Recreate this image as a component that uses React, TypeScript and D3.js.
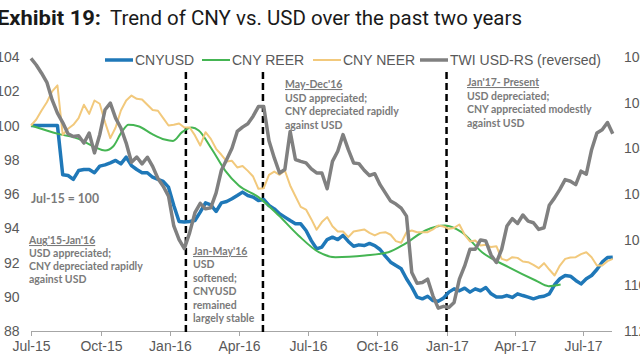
import React from 'react';
import * as d3 from 'd3';

// ---------- DATA ----------
const startDate = new Date(2015, 6, 1); // weekly observations starting Jul 1 2015

const cnyusd = [
  100, 100, 100, 100, 100, 100,
  97.12, 97.08, 96.85, 97.37, 97.43,
  97.43, 97.24, 97.63, 97.70, 97.82,
  97.96, 97.76, 98.15, 97.66, 97.43,
  97.24, 97.24, 96.98, 96.85, 96.73,
  96.40, 95.33, 94.39, 94.36, 94.39,
  94.45, 94.94, 95.48, 95.37, 94.98,
  95.48, 95.56, 95.72, 95.91, 96.11,
  95.91, 95.82, 95.62, 95.68, 95.33,
  95.13, 94.84, 94.65, 94.45, 94.26,
  94.26, 93.87, 93.28, 92.80, 92.90,
  93.34, 93.48, 93.34, 93.58, 93.23,
  92.95, 93.03, 92.99, 93.11, 92.99,
  92.76, 92.37, 92.02, 91.82, 91.63,
  91.05, 90.56, 89.98, 89.88, 90.03,
  89.78, 89.74, 89.92, 90.27, 90.46,
  90.35, 90.50, 90.27, 90.46, 90.35,
  90.54, 90.17, 89.98, 89.98, 90.07,
  89.96, 90.17, 90.07, 89.98, 89.88,
  89.98, 90.03, 90.17, 90.70, 91.05,
  91.24, 91.20, 90.95, 90.75, 91.05,
  91.24, 91.59, 92.02, 92.29, 92.31,
];

const cnyNeer = [
  100, 100.35, 100.88, 101.36, 101.99, 102.34,
  99.45, 99.81, 100.04, 100.43, 101.21,
  100.68, 101.46, 101.27, 100.19, 99.26,
  99.88, 100.88, 101.46, 101.75, 101.56,
  101.52, 101.21, 100.91, 100.86, 100.43,
  100.0, 100.04, 100.12, 99.88, 99.88,
  99.42, 98.83, 99.61, 99.22, 98.64,
  98.29, 97.90, 97.94, 97.55, 97.63,
  97.35, 97.02, 96.30, 96.34, 97.12,
  97.31, 97.12, 97.37, 96.50, 95.87,
  95.25, 95.09, 94.53, 93.91, 94.36,
  94.65, 94.12, 93.81, 93.81, 93.48,
  93.81, 93.87, 93.93, 93.73, 93.58,
  93.73, 93.77, 93.62, 93.25, 93.15,
  93.77, 93.87, 93.77, 93.77, 93.77,
  93.93, 94.16, 94.10, 93.97, 94.02,
  94.22, 93.62, 93.23, 93.28, 92.99,
  93.03, 92.90, 92.95, 92.21, 92.12,
  92.31, 92.27, 92.06, 92.02, 91.86,
  91.67, 91.96, 91.59, 91.24, 91.82,
  92.21, 92.29, 92.31, 92.49, 92.60,
  92.31, 91.82, 91.82, 92.08, 92.21,
];

const twiUsd = [
  100.06, 100.35, 100.71, 101.11, 101.88, 102.46,
  102.87, 103.36, 103.48, 103.45, 103.77,
  103.33, 104.20, 103.40, 102.31, 102.02,
  102.68, 103.11, 103.77, 104.61, 104.38,
  104.68, 104.39, 104.79, 105.32, 105.66,
  106.09, 107.40, 108.00, 108.39, 107.69,
  106.82, 106.41, 106.65, 106.60, 105.95,
  104.96, 104.49, 104.00, 103.26, 103.07,
  102.92, 102.59, 102.17, 102.17, 103.67,
  104.42, 105.08, 104.93, 103.26, 104.49,
  104.57, 104.64, 104.90, 105.08, 105.08,
  105.77, 104.57, 104.13, 103.40, 104.06,
  104.64, 104.67, 104.96, 105.19, 105.11,
  105.59, 105.95, 106.31, 106.44, 106.62,
  106.97, 109.44, 109.91, 109.88, 109.73,
  110.46, 111.00, 110.92, 110.97, 110.75,
  109.73, 109.15, 108.42, 108.42, 108.01,
  108.06, 108.68, 109.00, 108.42, 107.40,
  107.08, 107.29, 106.92, 107.19, 107.26,
  107.55, 107.48, 106.49, 106.17, 105.80,
  105.37, 105.44, 105.59, 105.00, 105.13,
  104.06, 103.33, 103.19, 102.87, 103.36,
];

const reerDates = [
  '2015-07-01', '2015-08-06', '2015-09-02', '2015-09-24', '2015-10-07', '2015-10-18',
  '2015-10-29', '2015-11-07', '2015-11-20', '2015-12-08', '2015-12-25', '2016-01-05',
  '2016-01-17', '2016-01-30', '2016-02-08', '2016-02-25', '2016-03-14', '2016-04-01',
  '2016-04-27', '2016-05-24', '2016-06-19', '2016-07-16', '2016-08-07', '2016-09-15',
  '2016-10-16', '2016-11-07', '2016-12-04', '2016-12-30', '2017-01-21', '2017-02-17',
  '2017-03-24', '2017-04-29', '2017-05-16', '2017-06-01',
];
const reerValues = [
  100, 99.51, 99.22, 98.73, 98.54, 98.79,
  99.61, 100.04, 99.96, 99.51, 99.18, 99.10,
  99.61, 99.88, 99.71, 98.64, 97.37, 96.50,
  95.82, 94.74, 93.58, 92.60, 92.31, 92.41,
  92.60, 93.09, 93.87, 94.16, 93.77, 92.60,
  91.73, 90.95, 90.62, 90.72,
];

const xTickDates = ['2015-07-01', '2015-10-01', '2016-01-01', '2016-04-01', '2016-07-01', '2016-10-01', '2017-01-01', '2017-04-01', '2017-07-01'];
const xTickLabels = ['Jul-15', 'Oct-15', 'Jan-16', 'Apr-16', 'Jul-16', 'Oct-16', 'Jan-17', 'Apr-17', 'Jul-17'];
const leftTicks = [88, 90, 92, 94, 96, 98, 100, 102, 104];
const rightTicks = [100, 102, 104, 106, 108, 110, 112];
const dividerDates = ['2016-01-22', '2016-05-03', '2017-01-01'];

const seriesNames = ['CNYUSD', 'CNY REER', 'CNY NEER', 'TWI USD-RS (reversed)'];

// ---------- STYLE / LAYOUT ----------
const COLORS = { usd: '#1f78b8', reer: '#45b553', neer: '#f2c97c', twi: '#808080' };
const TEXT = '#595959';
const NOTE = '#7a7a7a';
const AXIS_FONT = "'Liberation Sans', Arial, sans-serif";
const NOTE_FONT = "Lato, 'Open Sans', sans-serif";

const parse = d3.timeParse('%Y-%m-%d');

export default function App() {
  const W = 640, H = 360;
  const x = d3.scaleTime().domain([new Date(2015, 6, 1), new Date(2017, 7, 8)]).range([31, 612]);
  const yL = d3.scaleLinear().domain([88, 104]).range([331, 57]);
  const yR = d3.scaleLinear().domain([100, 112]).range([57, 331]);

  const weekDate = (i: number) => d3.timeDay.offset(startDate, 7 * i);

  const lineL = d3.line<number>().x((_, i) => x(weekDate(i))).y((v) => yL(v));
  const lineR = d3.line<number>().x((_, i) => x(weekDate(i))).y((v) => yR(v));
  const reerPts = reerDates.map((d, i) => ({ d: parse(d)!, v: reerValues[i] }));
  const lineReer = d3.line<{ d: Date; v: number }>().x((p) => x(p.d)).y((p) => yL(p.v)).curve(d3.curveMonotoneX);

  const legend = [
    { name: seriesNames[0], color: COLORS.usd, w: 3.5, x: 105 },
    { name: seriesNames[1], color: COLORS.reer, w: 2, x: 202 },
    { name: seriesNames[2], color: COLORS.neer, w: 2, x: 313 },
    { name: seriesNames[3], color: COLORS.twi, w: 3.5, x: 420 },
  ];

  const notes = [
    { x: 29, y: 244, lines: ["Aug'15-Jan'16", 'USD appreciated;', 'CNY depreciated rapidly', 'against USD'], lh: 13 },
    { x: 193, y: 255, lines: ["Jan-May'16", 'USD', 'softened;', 'CNYUSD', 'remained', 'largely stable'], lh: 13.4 },
    { x: 285, y: 88, lines: ["May-Dec'16", 'USD appreciated;', 'CNY depreciated rapidly', 'against USD'], lh: 13.5 },
    { x: 467, y: 86, lines: ["Jan'17- Present", 'USD depreciated;', 'CNY appreciated modestly', 'against USD'], lh: 13.5 },
  ];

  return (
    <svg width={W} height={H} style={{ position: 'absolute', left: 0, top: 0, background: '#fff' }}>
      {/* title */}
      <text x={-3} y={25} fontFamily="Roboto, sans-serif" fontWeight="bold" fontSize={21} fill="#1a1a1a" textLength={104} lengthAdjust="spacingAndGlyphs">Exhibit 19:</text>
      <text x={110} y={25} fontFamily="Roboto, sans-serif" fontSize={21} fill="#1a1a1a" textLength={412} lengthAdjust="spacingAndGlyphs">Trend of CNY vs. USD over the past two years</text>

      {/* legend */}
      {legend.map((l) => (
        <g key={l.name}>
          <line x1={l.x} x2={l.x + 28} y1={60} y2={60} stroke={l.color} strokeWidth={l.w} />
          <text x={l.x + 30} y={65} fontFamily={AXIS_FONT} fontSize={14} fill={TEXT}>{l.name}</text>
        </g>
      ))}

      {/* left axis labels */}
      {leftTicks.map((t) => (
        <text key={'l' + t} x={19.5} y={yL(t) + 5} textAnchor="end" fontFamily={AXIS_FONT} fontSize={14} fill={TEXT}>{t}</text>
      ))}
      {/* right axis labels */}
      {rightTicks.map((t) => (
        <text key={'r' + t} x={624} y={yR(t) + 5} textAnchor="start" fontFamily={AXIS_FONT} fontSize={14} fill={TEXT}>{t}</text>
      ))}

      {/* x axis */}
      <line x1={31} x2={612} y1={331.5} y2={331.5} stroke="#a6a6a6" strokeWidth={1} />
      {xTickDates.map((d, i) => {
        const xx = Math.round(x(parse(d)!)) + 0.5;
        return (
          <g key={d}>
            <line x1={xx} x2={xx} y1={331.5} y2={336} stroke="#a6a6a6" strokeWidth={1} />
            <text x={xx} y={351} textAnchor="middle" fontFamily={AXIS_FONT} fontSize={14} fill={TEXT}>{xTickLabels[i]}</text>
          </g>
        );
      })}

      {/* dividers */}
      {dividerDates.map((d) => {
        const xx = x(parse(d)!);
        return <line key={d} x1={xx} x2={xx} y1={72} y2={332} stroke="#000" strokeWidth={2.5} strokeDasharray="7,4" />;
      })}

      {/* series */}
      <path d={lineL(cnyusd) || ''} fill="none" stroke={COLORS.usd} strokeWidth={3.5} strokeLinejoin="round" />
      <path d={lineReer(reerPts) || ''} fill="none" stroke={COLORS.reer} strokeWidth={2} />
      <path d={lineL(cnyNeer) || ''} fill="none" stroke={COLORS.neer} strokeWidth={2} strokeLinejoin="round" />
      <path d={lineR(twiUsd) || ''} fill="none" stroke={COLORS.twi} strokeWidth={3.5} strokeLinejoin="round" />

      {/* annotations */}
      <text x={31} y={203} fontFamily={NOTE_FONT} fontWeight="bold" fontSize={13.5} fill={NOTE} textLength={68} lengthAdjust="spacingAndGlyphs">Jul-15 = 100</text>
      {notes.map((n, ni) => (
        <g key={ni}>
          {n.lines.map((ln, li) => (
            <text key={li} x={n.x} y={n.y + li * n.lh} fontFamily={NOTE_FONT} fontWeight="bold" fontSize={10.5} fill={NOTE}
              textDecoration={li === 0 ? 'underline' : undefined}>{ln}</text>
          ))}
        </g>
      ))}
    </svg>
  );
}
